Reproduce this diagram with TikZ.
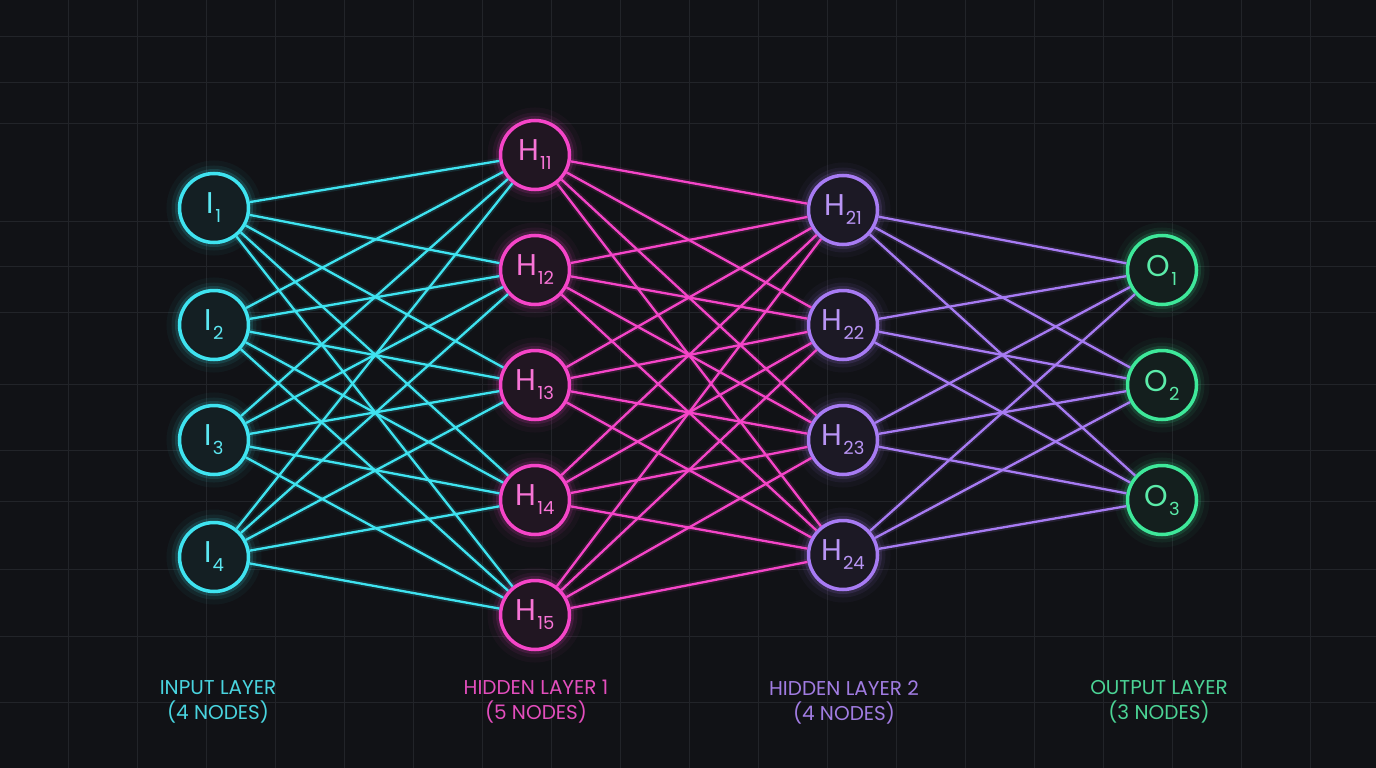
\documentclass[tikz,border=0pt]{standalone}
\usepackage{fontspec}
\setmainfont{Poppins}
\usepackage{xcolor}
\usepackage{tikz}

\definecolor{bgcol}{HTML}{111216}
\definecolor{gridcol}{HTML}{222429}
\definecolor{ncyan}{HTML}{3FE3F0}
\definecolor{npink}{HTML}{F545C8}
\definecolor{npurple}{HTML}{A77BF3}
\definecolor{ngreen}{HTML}{3EE89A}

\newcommand{\lsub}[1]{\kern1pt\raisebox{-9pt}{\fontsize{18}{18}\selectfont #1}}

\tikzset{
    neuron/.style={circle, draw, line width=3.5pt, minimum size=69pt, inner sep=0pt,
        font=\fontsize{30}{30}\selectfont},
    glowing/.style={preaction={draw=#1, line width=26pt, draw opacity=0.04},
        preaction={draw=#1, line width=16pt, draw opacity=0.07},
        preaction={draw=#1, line width=9pt, draw opacity=0.14}},
    inneuron/.style={neuron, glowing=ncyan, draw=ncyan, fill=ncyan!6!bgcol, text=ncyan!85!white},
    hidneuron/.style={neuron, glowing=npink, draw=npink, fill=npink!7!bgcol, text=npink!75!white},
    midneuron/.style={neuron, glowing=npurple, draw=npurple, fill=npurple!7!bgcol, text=npurple!80!white},
    outneuron/.style={neuron, glowing=ngreen, draw=ngreen, fill=ngreen!6!bgcol, text=ngreen!85!white},
    link/.style={draw=#1, line width=2.3pt, preaction={draw=#1, line width=6pt, draw opacity=0.12}},
    layerlabel/.style={align=center, font=\fontsize{20}{25}\selectfont},
}

\begin{document}
\begin{tikzpicture}[x=1pt, y=-1pt]
    \fill[bgcol] (0,0) rectangle (1376,768);
    \useasboundingbox (0,0) rectangle (1376,768);
    \foreach \gx in {68,137,206,275,344,413,482,551,620,689,758,827,896,965,1034,1103,1172,1241,1310}
        \draw[gridcol, line width=1pt] (\gx,0) -- (\gx,768);
    \foreach \gy in {37,82,123,221,266,312,384,450,501,569,636,702}
        \draw[gridcol, line width=1pt] (0,\gy) -- (1376,\gy);

    \draw (214,208) node (in1) [inneuron] {I\lsub{1}};
    \draw (214,325) node (in2) [inneuron] {I\lsub{2}};
    \draw (214,440) node (in3) [inneuron] {I\lsub{3}};
    \draw (214,557) node (in4) [inneuron] {I\lsub{4}};

    \draw (535,155) node (hid11) [hidneuron] {H\lsub{11}};
    \draw (535,270) node (hid12) [hidneuron] {H\lsub{12}};
    \draw (535,385) node (hid13) [hidneuron] {H\lsub{13}};
    \draw (535,500) node (hid14) [hidneuron] {H\lsub{14}};
    \draw (535,615) node (hid15) [hidneuron] {H\lsub{15}};

    \draw (843,210) node (hid21) [midneuron] {H\lsub{21}};
    \draw (843,325) node (hid22) [midneuron] {H\lsub{22}};
    \draw (843,440) node (hid23) [midneuron] {H\lsub{23}};
    \draw (843,555) node (hid24) [midneuron] {H\lsub{24}};

    \draw (1162,270) node (out1) [outneuron] {O\lsub{1}};
    \draw (1162,385) node (out2) [outneuron] {O\lsub{2}};
    \draw (1162,500) node (out3) [outneuron] {O\lsub{3}};

    \draw (218,702) node (inlabel) [layerlabel, text=ncyan!85!gray] {INPUT LAYER\\(4 NODES)};
    \draw (536,702) node (hid1label) [layerlabel, text=npink!85!gray] {HIDDEN LAYER 1\\(5 NODES)};
    \draw (844,702) node (hid2label) [layerlabel, text=npurple!85!gray] {HIDDEN LAYER 2\\(4 NODES)};
    \draw (1159,702) node (outlabel) [layerlabel, text=ngreen!80!gray] {OUTPUT LAYER\\(3 NODES)};

    \draw[link=ncyan] (in1) -- (hid11);
    \draw[link=ncyan] (in1) -- (hid12);
    \draw[link=ncyan] (in1) -- (hid13);
    \draw[link=ncyan] (in1) -- (hid14);
    \draw[link=ncyan] (in1) -- (hid15);
    \draw[link=ncyan] (in2) -- (hid11);
    \draw[link=ncyan] (in2) -- (hid12);
    \draw[link=ncyan] (in2) -- (hid13);
    \draw[link=ncyan] (in2) -- (hid14);
    \draw[link=ncyan] (in2) -- (hid15);
    \draw[link=ncyan] (in3) -- (hid11);
    \draw[link=ncyan] (in3) -- (hid12);
    \draw[link=ncyan] (in3) -- (hid13);
    \draw[link=ncyan] (in3) -- (hid14);
    \draw[link=ncyan] (in3) -- (hid15);
    \draw[link=ncyan] (in4) -- (hid11);
    \draw[link=ncyan] (in4) -- (hid12);
    \draw[link=ncyan] (in4) -- (hid13);
    \draw[link=ncyan] (in4) -- (hid14);
    \draw[link=ncyan] (in4) -- (hid15);

    \draw[link=npink] (hid11) -- (hid21);
    \draw[link=npink] (hid11) -- (hid22);
    \draw[link=npink] (hid11) -- (hid23);
    \draw[link=npink] (hid11) -- (hid24);
    \draw[link=npink] (hid12) -- (hid21);
    \draw[link=npink] (hid12) -- (hid22);
    \draw[link=npink] (hid12) -- (hid23);
    \draw[link=npink] (hid12) -- (hid24);
    \draw[link=npink] (hid13) -- (hid21);
    \draw[link=npink] (hid13) -- (hid22);
    \draw[link=npink] (hid13) -- (hid23);
    \draw[link=npink] (hid13) -- (hid24);
    \draw[link=npink] (hid14) -- (hid21);
    \draw[link=npink] (hid14) -- (hid22);
    \draw[link=npink] (hid14) -- (hid23);
    \draw[link=npink] (hid14) -- (hid24);
    \draw[link=npink] (hid15) -- (hid21);
    \draw[link=npink] (hid15) -- (hid22);
    \draw[link=npink] (hid15) -- (hid23);
    \draw[link=npink] (hid15) -- (hid24);

    \draw[link=npurple] (hid21) -- (out1);
    \draw[link=npurple] (hid21) -- (out2);
    \draw[link=npurple] (hid21) -- (out3);
    \draw[link=npurple] (hid22) -- (out1);
    \draw[link=npurple] (hid22) -- (out2);
    \draw[link=npurple] (hid22) -- (out3);
    \draw[link=npurple] (hid23) -- (out1);
    \draw[link=npurple] (hid23) -- (out2);
    \draw[link=npurple] (hid23) -- (out3);
    \draw[link=npurple] (hid24) -- (out1);
    \draw[link=npurple] (hid24) -- (out2);
    \draw[link=npurple] (hid24) -- (out3);
\end{tikzpicture}
\end{document}
